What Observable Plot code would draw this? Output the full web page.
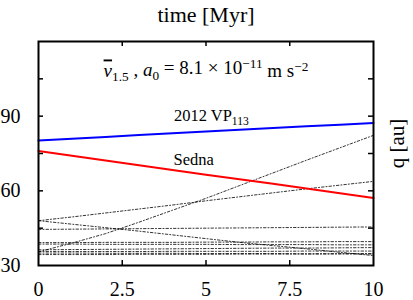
<!DOCTYPE html>
<html><head><meta charset="utf-8">
<script src="https://cdn.jsdelivr.net/npm/d3@7"></script>
<script src="https://cdn.jsdelivr.net/npm/@observablehq/plot@0.6"></script>
<style>body{margin:0;background:#fff} svg text{font-family:"Liberation Serif","DejaVu Serif",serif !important}</style>
</head><body><div id="chart"></div>
<script>
// time [Myr]
const times = [0, 1, 2, 3, 4, 5, 6, 7, 8, 9, 10];
// perihelion q [au] of the named objects
const vp113 = [80.2, 80.9, 81.6, 82.4, 83.1, 83.8, 84.5, 85.2, 85.9, 86.6, 87.3];
const sedna = [76.0, 74.1, 72.2, 70.3, 68.4, 66.5, 64.7, 62.8, 60.9, 59.0, 57.1];
// other objects (dash-dot)
const objA = [35.5, 39.0, 42.8, 47.4, 52.2, 57.0, 62.1, 67.2, 72.3, 77.3, 82.3];
const objB = [48.0, 49.5, 51.1, 52.7, 54.3, 56.0, 57.6, 59.2, 60.8, 62.3, 63.8];
const objC = [48.0, 46.6, 45.2, 43.8, 42.3, 40.8, 39.3, 38.0, 36.7, 35.3, 34.0];
const objD = [44.5, 44.6, 44.7, 44.8, 44.9, 45.0, 45.1, 45.2, 45.3, 45.4, 45.5];
const objE1 = [39.2, 39.2, 39.3, 39.3, 39.3, 39.4, 39.4, 39.5, 39.5, 39.6, 39.6];
const objE2 = [38.6, 38.6, 38.5, 38.5, 38.5, 38.5, 38.4, 38.4, 38.4, 38.3, 38.3];
const objE3 = [36.3, 36.4, 36.5, 36.6, 36.7, 36.8, 36.9, 37.0, 37.0, 37.1, 37.2];
const objE4 = [35.6, 35.6, 35.6, 35.6, 35.7, 35.7, 35.7, 35.7, 35.8, 35.8, 35.8];
const objE5 = [35.0, 35.0, 34.9, 34.9, 34.9, 34.8, 34.8, 34.8, 34.7, 34.7, 34.7];
const objE6 = [34.4, 34.4, 34.4, 34.5, 34.5, 34.5, 34.6, 34.6, 34.6, 34.7, 34.7];
// ticks
const xTicks = [0, 2.5, 5, 7.5, 10];
const yLabelTicks = [30, 60, 90];
const yTicks = [45, 60, 75, 90, 105];
// labels
const labels = [
  {t: 5.16, q: 90.0, text: "2012 VP113"},
  {t: 4.63, q: 72.6, text: "Sedna"}
];
const innerTitle = {t: 5.0, q: 108.0, text: "NU1.5 , a0 = 8.1 × 10−11 m s−2"};

const dotted = [objA, objB, objC, objD, objE1, objE2, objE3, objE4, objE5, objE6];
const rows = [];
dotted.forEach((s, i) => s.forEach((q, j) => rows.push({id: i, t: times[j], q})));
const named = [];
vp113.forEach((q, j) => named.push({name: "vp", t: times[j], q}));
sedna.forEach((q, j) => named.push({name: "sedna", t: times[j], q}));

const W = 413, H = 300, mL = 38, mR = 40, mT = 41, mB = 35;
const ph = H - mT - mB, pw = W - mL - mR;
const FONT = '"Liberation Serif", "DejaVu Serif", serif';

const chart = Plot.plot({
  width: W, height: H,
  marginLeft: mL, marginRight: mR, marginTop: mT, marginBottom: mB,
  style: {fontFamily: FONT, background: "white", color: "black"},
  x: {domain: [0, 10], label: null},
  y: {domain: [30, 120], label: null},
  marks: [
    Plot.line(rows, {x: "t", y: "q", z: "id", stroke: "black", strokeWidth: 0.8, strokeDasharray: "2.5,2,1,2"}),
    Plot.line(named, {x: "t", y: "q", z: "name", stroke: d => d.name === "vp" ? "#0000ff" : "#ff0000", strokeWidth: 2}),
    Plot.ruleX(xTicks.slice(1, -1), {insetTop: ph - 5, stroke: "black", strokeWidth: 1.5}),
    Plot.ruleX(xTicks.slice(1, -1), {insetBottom: ph - 5, stroke: "black", strokeWidth: 1.5}),
    Plot.ruleY(yTicks, {insetRight: pw - 5, stroke: "black", strokeWidth: 1.5}),
    Plot.ruleY(yTicks, {insetLeft: pw - 5, stroke: "black", strokeWidth: 1.5}),
    Plot.frame({stroke: "black", strokeWidth: 2}),
    Plot.axisX(xTicks, {tickSize: 0, tickPadding: 16, fontSize: 20, tickFormat: d => String(d)}),
    Plot.axisY(yLabelTicks, {tickSize: 0, tickPadding: 18, fontSize: 20, tickFormat: d => String(d)}),
    Plot.text(["time [Myr]"], {frameAnchor: "top", lineAnchor: "middle", dy: -27, fontSize: 22}),
    Plot.text(["q [au]"], {frameAnchor: "right", textAnchor: "middle", lineAnchor: "middle", rotate: -90, dx: 24, dy: -10, fontSize: 21}),
    Plot.text(labels, {x: "t", y: "q", text: "text", fontSize: 16.5}),
    Plot.text([innerTitle], {x: "t", y: "q", text: "text", fontSize: 19})
  ]
});
document.getElementById("chart").appendChild(chart);

function rich(el, parts) {
  const sel = d3.select(el);
  sel.text(null);
  parts.forEach(p => {
    const ts = sel.append("tspan").text(p.s);
    if (p.italic) ts.attr("font-style", "italic");
    if (p.over) ts.style("text-decoration", "overline");
    if (p.size) ts.attr("font-size", p.size);
    if (p.dy) ts.attr("dy", p.dy);
  });
}
d3.select(chart).selectAll("text").each(function () {
  this.style.fontFamily = FONT;
  const t = this.textContent;
  if (t === "2012 VP113") {
    rich(this, [{s: "2012 VP"}, {s: "113", size: "0.7em", dy: "0.3em"}]);
  } else if (t === innerTitle.text) {
    rich(this, [
      {s: "ν", italic: true, over: true},
      {s: "1.5", size: "0.7em", dy: "0.3em"},
      {s: " , ", dy: "-0.3em"},
      {s: "a", italic: true},
      {s: "0", size: "0.7em", dy: "0.3em"},
      {s: " = 8.1 × 10", dy: "-0.3em"},
      {s: "−11", size: "0.7em", dy: "-0.45em"},
      {s: " m s", dy: "0.45em"},
      {s: "−2", size: "0.7em", dy: "-0.45em"}
    ]);
  }
});
</script></body></html>
